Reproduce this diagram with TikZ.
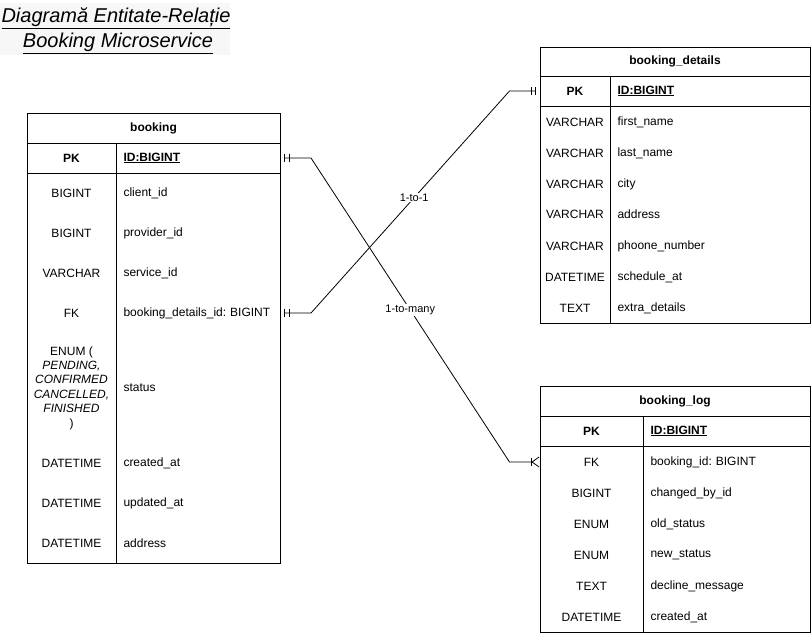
\documentclass[tikz,border=0pt]{standalone}
\usepackage{fontspec}
\setmainfont{Liberation Sans}
\usepackage{tikz}
\usetikzlibrary{arrows.meta}
\frenchspacing

\newcommand\tabfont{\fontsize{12}{14.4}\selectfont}
\tikzset{
  headline/.style={font=\fontsize{20}{24}\selectfont\itshape, inner sep=0pt},
  tabtitle/.style={font=\tabfont\bfseries, inner sep=0pt},
  keycell/.style={minimum width=#1, align=center, inner sep=0pt, font=\tabfont},
  fieldcell/.style={text width=#1, align=left, anchor=west, inner xsep=7pt, inner ysep=0pt, font=\tabfont},
  pkfont/.style={font=\tabfont\bfseries},
  lbl/.style={fill=white, inner sep=1pt, font=\fontsize{11}{13}\selectfont},
  rel/.style={line width=.8pt},
  onetoone/.style={arrows={{Bar[width=8pt,sep=3pt]Bar[width=8pt,sep=4pt]}-{Bar[width=8pt,sep=3pt]Bar[width=8pt,sep=4pt]}}},
  onetomany/.style={arrows={{Bar[width=8pt,sep=3pt]Bar[width=8pt,sep=4pt]}-{Bar[width=8pt,sep=0pt]Straight Barb[reversed,length=7pt,width=10pt]}}}
}

\begin{document}
\begin{tikzpicture}[x=1pt,y=-1pt,line width=1pt]
\useasboundingbox (0,0) rectangle (811,633);
% title
\fill[gray!6] (0,3) rectangle (230,55);
\node[headline] (ttl1) at (116,18) {\underline{Diagramă Entitate-Relație}};
\node[headline] (ttl2) at (118,43) {\underline{Booking Microservice}};

% booking
\draw (27,113) rectangle (280,563);
\draw (27,143) -- (280,143) (27,173) -- (280,173) (116,143) -- (116,563);
\node[tabtitle] (bk) at (153.5,128) {booking};
\node[keycell=89, pkfont] (bkpkk) at (71.5,158) {PK};
\node[fieldcell=150, pkfont] (bkpk) at (116,158) {\underline{ID:BIGINT}};
\node[keycell=89] (bkclientk) at (71.5,193) {BIGINT};
\node[fieldcell=150] (bkclient) at (116,193) {client\_id};
\node[keycell=89] (bkproviderk) at (71.5,233) {BIGINT};
\node[fieldcell=150] (bkprovider) at (116,233) {provider\_id};
\node[keycell=89] (bkservicek) at (71.5,273) {VARCHAR};
\node[fieldcell=150] (bkservice) at (116,273) {service\_id};
\node[keycell=89] (bkfkk) at (71.5,313) {FK};
\node[fieldcell=150] (bkfk) at (116,313) {booking\_details\_id: BIGINT};
\node[keycell=89] (bkstatusk) at (71.5,388) {ENUM (\\\textit{PENDING,}\\\textit{CONFIRMED}\\\textit{CANCELLED,}\\\textit{FINISHED}\\)};
\node[fieldcell=150] (bkstatus) at (116,388) {status};
\node[keycell=89] (bkcreatedk) at (71.5,463) {DATETIME};
\node[fieldcell=150] (bkcreated) at (116,463) {created\_at};
\node[keycell=89] (bkupdatedk) at (71.5,503) {DATETIME};
\node[fieldcell=150] (bkupdated) at (116,503) {updated\_at};
\node[keycell=89] (bkaddressk) at (71.5,543) {DATETIME};
\node[fieldcell=150] (bkaddress) at (116,543) {address};

% booking_details
\draw (540,47) rectangle (810,323);
\draw (540,76) -- (810,76) (540,106) -- (810,106) (610,76) -- (610,323);
\node[tabtitle] (bd) at (675,61.5) {booking\_details};
\node[keycell=70, pkfont] (bdpkk) at (575,91) {PK};
\node[fieldcell=186, pkfont] (bdpk) at (610,91) {\underline{ID:BIGINT}};
\node[keycell=70] (bdfirstk) at (575,122) {VARCHAR};
\node[fieldcell=186] (bdfirst) at (610,122) {first\_name};
\node[keycell=70] (bdlastk) at (575,153) {VARCHAR};
\node[fieldcell=186] (bdlast) at (610,153) {last\_name};
\node[keycell=70] (bdcityk) at (575,184) {VARCHAR};
\node[fieldcell=186] (bdcity) at (610,184) {city};
\node[keycell=70] (bdaddressk) at (575,214.5) {VARCHAR};
\node[fieldcell=186] (bdaddress) at (610,214.5) {address};
\node[keycell=70] (bdphonek) at (575,246) {VARCHAR};
\node[fieldcell=186] (bdphone) at (610,246) {phoone\_number};
\node[keycell=70] (bdschedulek) at (575,277) {DATETIME};
\node[fieldcell=186] (bdschedule) at (610,277) {schedule\_at};
\node[keycell=70] (bdextrak) at (575,308) {TEXT};
\node[fieldcell=186] (bdextra) at (610,308) {extra\_details};

% booking_log
\draw (540,386) rectangle (810,632);
\draw (540,416) -- (810,416) (540,446) -- (810,446) (643,416) -- (643,632);
\node[tabtitle] (bl) at (675,401) {booking\_log};
\node[keycell=103, pkfont] (blpkk) at (591.5,431) {PK};
\node[fieldcell=153, pkfont] (blpk) at (643,431) {\underline{ID:BIGINT}};
\node[keycell=103] (blfkk) at (591.5,462) {FK};
\node[fieldcell=153] (blfk) at (643,462) {booking\_id: BIGINT};
\node[keycell=103] (blchangedk) at (591.5,493) {BIGINT};
\node[fieldcell=153] (blchanged) at (643,493) {changed\_by\_id};
\node[keycell=103] (bloldk) at (591.5,524) {ENUM};
\node[fieldcell=153] (blold) at (643,524) {old\_status};
\node[keycell=103] (blnewk) at (591.5,555) {ENUM};
\node[fieldcell=153] (blnew) at (643,555) {new\_status};
\node[keycell=103] (bldeclinek) at (591.5,586) {TEXT};
\node[fieldcell=153] (bldecline) at (643,586) {decline\_message};
\node[keycell=103] (blcreatedk) at (591.5,617) {DATETIME};
\node[fieldcell=153] (blcreated) at (643,617) {created\_at};

% relations
\draw[rel, onetoone] (bkfk.east) -- ++(30,0) -- node[lbl, pos=.52] {1-to-1} ([xshift=-30pt]bdpkk.west) -- (bdpkk.west);
\draw[rel, onetomany] (bkpk.east) -- ++(30,0) -- node[lbl, pos=.5] {1-to-many} ([xshift=-30pt]blfkk.west) -- (blfkk.west);
\end{tikzpicture}
\end{document}
